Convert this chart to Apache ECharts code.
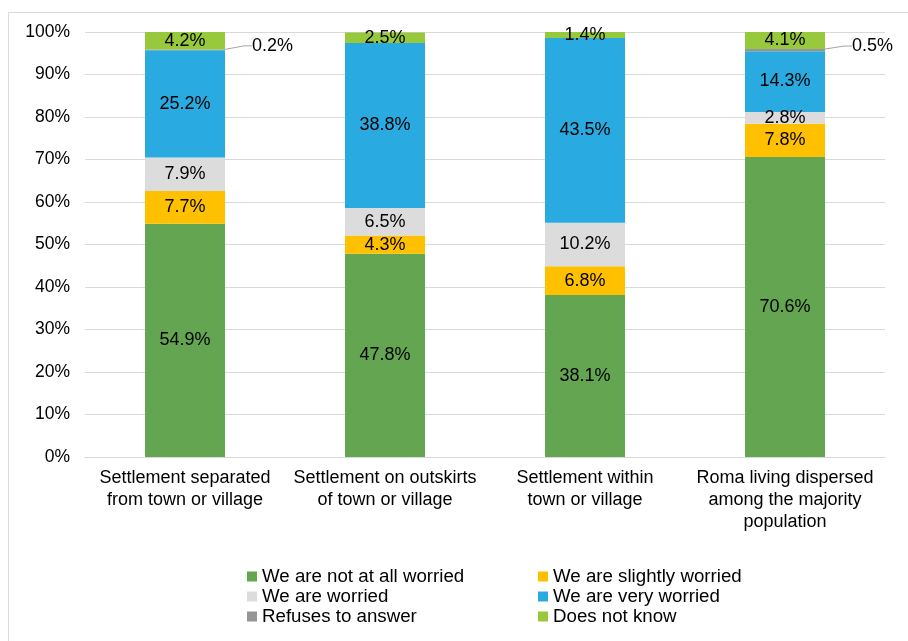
<!DOCTYPE html>
<html>
<head>
<meta charset="utf-8">
<script src="https://cdn.jsdelivr.net/npm/echarts@6/dist/echarts.min.js"></script>
<style>
  html, body { margin:0; padding:0; background:#fff; }
  #chart { width:908px; height:641px; }
</style>
</head>
<body>
<div id="chart"></div>
<script>
// ====== data ======
const categories = [
  'Settlement separated\nfrom town or village',
  'Settlement on outskirts\nof town or village',
  'Settlement within\ntown or village',
  'Roma living dispersed\namong the majority\npopulation'
];
const notWorried      = [54.9, 47.8, 38.1, 70.6];
const slightlyWorried = [7.7, 4.3, 6.8, 7.8];
const worried         = [7.9, 6.5, 10.2, 2.8];
const veryWorried     = [25.2, 38.8, 43.5, 14.3];
const refuses         = [0.2, null, null, 0.5];
const doesNotKnow     = [4.2, 2.5, 1.4, 4.1];
const yTicks = [0, 10, 20, 30, 40, 50, 60, 70, 80, 90, 100];

const FONT = 'Liberation Sans, Arial, sans-serif';

// ====== chart ======
const chart = echarts.init(document.getElementById('chart'));

function seg(name, data, color){
  return {
    name, type:'bar', stack:'all', data,
    barWidth:'40%',
    itemStyle:{ color },
    label:{
      show:true, position:'inside', color:'#000',
      fontFamily:FONT, fontSize:18,
      formatter: p => p.value == null ? '' : p.value.toFixed(1) + '%'
    }
  };
}

const series = [
  seg('We are not at all worried', notWorried, '#63a550'),
  seg('We are slightly worried', slightlyWorried, '#ffc000'),
  seg('We are worried', worried, '#dcdcdc'),
  seg('We are very worried', veryWorried, '#29abe2'),
  seg('Refuses to answer', refuses, '#959595'),
  seg('Does not know', doesNotKnow, '#98c93c'),
];
// refuses label sits outside with a leader line
series[4].label.position = 'right';
series[4].labelLayout = { dx: 22, dy: -4 };
series[4].labelLine = { show:true, length2:8, lineStyle:{ color:'#a6a6a6', width:1 } };

// legend: two columns, three rows
const legendPos = [[242,562],[533,562],[242,582],[533,582],[242,602],[533,602]];
const legends = series.map((s,i)=>({
  data:[s.name],
  left: legendPos[i][0], top: legendPos[i][1],
  itemWidth:10, itemHeight:10, itemGap:0,
  icon:'rect',
  textStyle:{ fontFamily:FONT, fontSize:18.7, color:'#000' },
  selectedMode:false
}));

chart.setOption({
  animation:false,
  graphic:[{
    type:'rect', left:6, top:10, silent:true,
    shape:{ width:1000, height:1000 },
    style:{ fill:null, stroke:'#d9d9d9', lineWidth:1 }
  }],
  grid:{ left:85, right:23, top:32, bottom:184 },
  legend: legends,
  xAxis:{
    type:'category', data:categories,
    axisLine:{ lineStyle:{ color:'#d9d9d9' } },
    axisTick:{ show:false },
    axisLabel:{ fontFamily:FONT, fontSize:18, color:'#000', lineHeight:22, margin:10, interval:0 }
  },
  yAxis:{
    type:'value', min:0, max:100, interval:10,
    axisLine:{ show:false }, axisTick:{ show:false },
    splitLine:{ lineStyle:{ color:'#d9d9d9' } },
    axisLabel:{
      fontFamily:FONT, fontSize:17.5, color:'#000', margin:15,
      formatter: v => yTicks.includes(v) ? v + '%' : ''
    }
  },
  series
});
</script>
</body>
</html>
